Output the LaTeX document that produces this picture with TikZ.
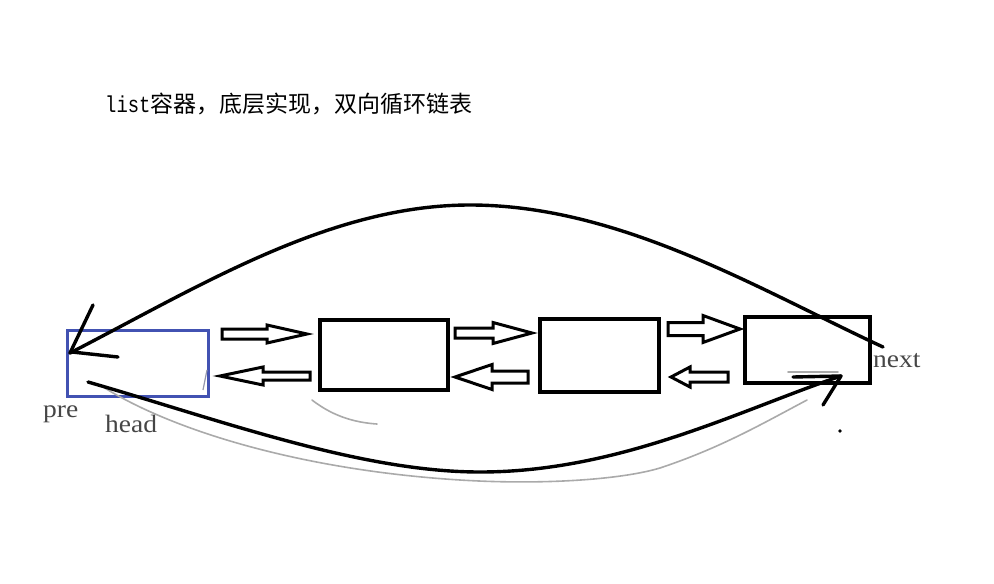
\documentclass[tikz,border=0pt]{standalone}
\usepackage{fontspec}
\setmainfont{Liberation Serif}
\newfontfamily\cjk{Noto Sans CJK SC}
\newfontfamily\monof{Liberation Mono}
\definecolor{headblue}{RGB}{66,82,178}
\definecolor{penGray}{RGB}{170,170,170}
\definecolor{txtGray}{RGB}{70,70,70}
\newcommand\blockarrow[6]{%
  \draw[blk] (#1,{#4-#5}) -- (#2,{#4-#5}) -- (#2,{#4-#6}) -- (#3,#4)
    -- (#2,{#4+#6}) -- (#2,{#4+#5}) -- (#1,{#4+#5}) -- cycle;}
\begin{document}
\begin{tikzpicture}[x=1pt,y=-1pt,
  box/.style={draw=black,line width=3.2pt,inner sep=0pt},
  headbox/.style={draw=headblue,line width=3pt,inner sep=0pt},
  blk/.style={draw=black,line width=3pt,fill=white,line join=miter},
  pen/.style={black,line width=3.4pt,line cap=round},
  thin/.style={penGray,line width=1.6pt,line cap=round},
  lbl/.style={text=txtGray,font=\fontsize{25}{28}\selectfont,inner sep=0pt,xscale=1.1}]
\useasboundingbox (0,0) rectangle (994,584);
% title
\node[anchor=base west,inner sep=0pt] (title) at (105,112)
  {\monof\fontsize{23}{26}\selectfont\scalebox{0.82}[1]{list}\cjk\fontsize{23}{26}\selectfont 容器，底层实现，双向循环链表};
% boxes
\node[headbox,minimum width=141pt,minimum height=66pt] (head) at (137.5,363) {};
\node[box,minimum width=128pt,minimum height=70pt] (b2) at (384,355) {};
\node[box,minimum width=119pt,minimum height=73pt] (b3) at (599.5,355.5) {};
\node[box,minimum width=125pt,minimum height=66pt] (b4) at (807.5,350) {};
% block arrows
\blockarrow{222}{267}{307}{334}{5}{9}
\blockarrow{310}{263}{220}{376}{4}{9}
\blockarrow{455}{493}{532}{333}{5}{10.5}
\blockarrow{528}{492}{455}{377}{6}{12.5}
\blockarrow{668}{703}{740}{329}{6.5}{13.5}
\blockarrow{728}{690}{671}{377}{5}{10}
% coordinates for the big curves
\coordinate (nx) at (883,347);
\coordinate (top) at (470,205);
\coordinate (ha) at (70,353);
\coordinate (hb) at (88,382);
\coordinate (bot) at (480,472);
\coordinate (tb) at (841,376);
% grey pen strokes
\draw[thin] (100,385) .. controls (170,430) and (300,470) .. (460,480)
  .. controls (540,485) and (620,480) .. (660,468)
  .. controls (720,448) and (760,425) .. (807,400);
\draw[thin] (312,400) .. controls (325,410) and (345,422) .. (377,424);
\draw[thin] (788,372) -- (838,372);
\draw[penGray!80!headblue,line width=1.2pt] (207,370) -- (203,390);
% top curve with arrow at head
\draw[pen] (nx) .. controls (760,290) and (620,205) .. (top)
  .. controls (330,205) and (200,286) .. (ha);
\draw[pen] (ha) -- (93,305);
\draw[pen] (72,352) -- (118,357);
% bottom curve with arrow at last node
\draw[pen] (hb) .. controls (220,420) and (360,472) .. (bot)
  .. controls (620,472) and (740,410) .. (tb);
\draw[pen] (tb) -- (793,377);
\draw[pen] (tb) -- (823,405);
\fill (840,431) circle (1.8);
% labels
\node[lbl,anchor=base west] (pre) at (43,417) {pre};
\node[lbl,anchor=base west] (headlbl) at (105,432) {head};
\node[lbl,anchor=base west] (next) at (873,367) {next};
\end{tikzpicture}
\end{document}
